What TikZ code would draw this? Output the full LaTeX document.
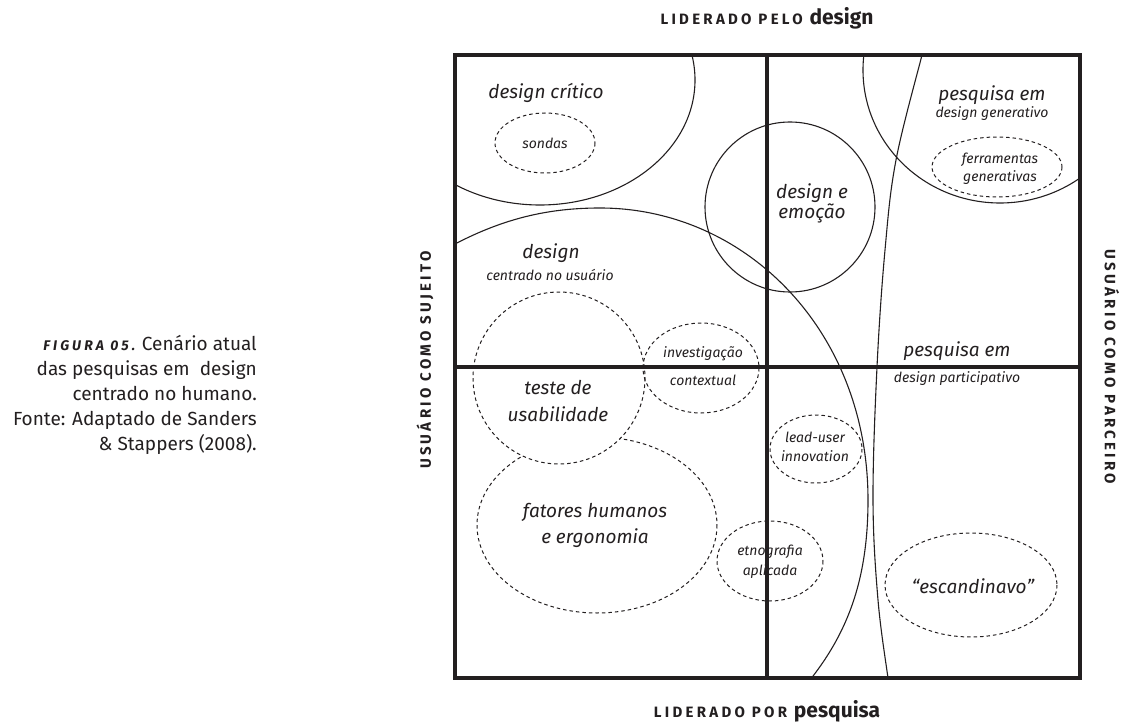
\documentclass[tikz,border=0pt]{standalone}
\usepackage{fontspec}
\setmainfont{Fira Sans}
\newfontfamily\capsfont[LetterSpace=22]{Fira Sans}
\definecolor{ink}{HTML}{231F20}
\begin{document}
\begin{tikzpicture}[x=1pt,y=-1pt,
  frame/.style={line width=3.8pt, draw=ink},
  solidarea/.style={line width=1.1pt, draw=ink},
  dashedarea/.style={line width=1pt, draw=ink, dash pattern=on 3.5pt off 3pt},
  big/.style={font=\itshape\fontsize{19}{27}\selectfont, text=ink, align=center, inner sep=0pt},
  small/.style={font=\itshape\fontsize{14}{19}\selectfont, text=ink, align=center, inner sep=0pt},
  axis/.style={font=\capsfont\bfseries\fontsize{15}{17}\selectfont, text=ink, inner sep=0pt},
  leading/.style n args={2}{font=\itshape\fontsize{#1}{#2}\selectfont}
]
\useasboundingbox (0,0) rectangle (1122,722);

% quadrant frame
\coordinate (tl) at (455,55);
\coordinate (br) at (1080,678);
\coordinate (tm) at (767,55);
\coordinate (bm) at (767,678);
\coordinate (ml) at (455,367);
\coordinate (mr) at (1080,367);

% solid areas, kept inside the frame
\begin{scope}
  \clip (tl) rectangle (br);
  % design critico
  \draw[solidarea] (540,80) ellipse [x radius=155, y radius=125];
  % pesquisa em design generativo
  \draw[solidarea] (1000,70) ellipse [x radius=137, y radius=133];
  % design e emocao
  \draw[solidarea] (790,207) circle [radius=85];
  % design centrado no usuario
  \draw[solidarea] (430,258) .. controls (490,222) and (540,208) .. (600,208)
    .. controls (745,208) and (868,330) .. (868,500)
    .. controls (868,585) and (845,640) .. (800,692);
  % pesquisa em design participativo
  \draw[solidarea] plot[smooth, tension=0.6] coordinates {
    (926,40) (922,55) (896,160) (885,250) (877,367) (873,500) (878,600) (888,678) (891,695)};
\end{scope}

% dashed areas
\draw[dashedarea] (597,525) ellipse [x radius=120, y radius=88];
\draw[dashedarea, fill=white] (559,378) circle [radius=86];
\draw[dashedarea] (701,368) ellipse [x radius=58, y radius=45];
\draw[dashedarea] (545,143) ellipse [x radius=50, y radius=30];
\draw[dashedarea] (997,167) ellipse [x radius=65, y radius=30];
\draw[dashedarea] (816,449) ellipse [x radius=46, y radius=34];
\draw[dashedarea] (770,561) ellipse [x radius=53, y radius=40];
\draw[dashedarea] (971,585) ellipse [x radius=86, y radius=52];

% area labels
\node[big] (critico) at (546,93) {design crítico};
\node[small] (sondas) at (545,143) {sondas};
\node[big, leading={19}{20}] (emocao) at (812,203) {design e\\emoção};
\node[big] (gen1) at (992,95) {pesquisa em};
\node[small] (gen2) at (992,114) {design generativo};
\node[small, leading={14}{18}] (ferr) at (1000,169) {ferramentas\\generativas};
\node[big] (ucd1) at (551,253) {design};
\node[small] (ucd2) at (550,275) {centrado no usuário};
\node[big, leading={19}{27}] (teste) at (558,401) {teste de\\usabilidade};
\node[small, leading={14}{28}] (invest) at (703,366) {investigação\\contextual};
\node[big, leading={19}{26}] (fatores) at (595,525) {fatores humanos\\e ergonomia};
\node[small, leading={14}{19}] (lead) at (815,447) {lead-user\\innovation};
\node[small, leading={14}{20}] (etno) at (770,562) {etnografia\\aplicada};
\node[big] (escand) at (973,586) {“escandinavo”};
\node[big] (part1) at (957,351) {pesquisa em};
\node[small] (part2) at (957,379) {design participativo};

% frame on top
\draw[frame] (tl) rectangle (br);
\draw[frame] (tm) -- (bm);
\draw[frame] (ml) -- (mr);

% axis labels
\node[axis] (top) at (767,18) {LIDERADO PELO {\addfontfeature{LetterSpace=0}\fontsize{21}{22}\selectfont design}};
\node[axis] (bottom) at (767,711) {LIDERADO POR {\addfontfeature{LetterSpace=0}\fontsize{21}{22}\selectfont pesquisa}};
\node[axis, rotate=90] (left) at (425,360) {USUÁRIO COMO SUJEITO};
\node[axis, rotate=-90] (right) at (1112,367) {USUÁRIO COMO PARCEIRO};

% caption
\node[anchor=north east, align=right, text=ink, inner sep=0pt,
      font=\fontsize{19}{25}\selectfont] (caption) at (257,335)
  {{\capsfont\bfseries\itshape\fontsize{14}{25}\selectfont FIGURA 05.} Cenário atual\\
   das pesquisas em~ design\\
   centrado no humano.\\
   Fonte: Adaptado de Sanders\\
   \& Stappers (2008).};
\end{tikzpicture}
\end{document}
